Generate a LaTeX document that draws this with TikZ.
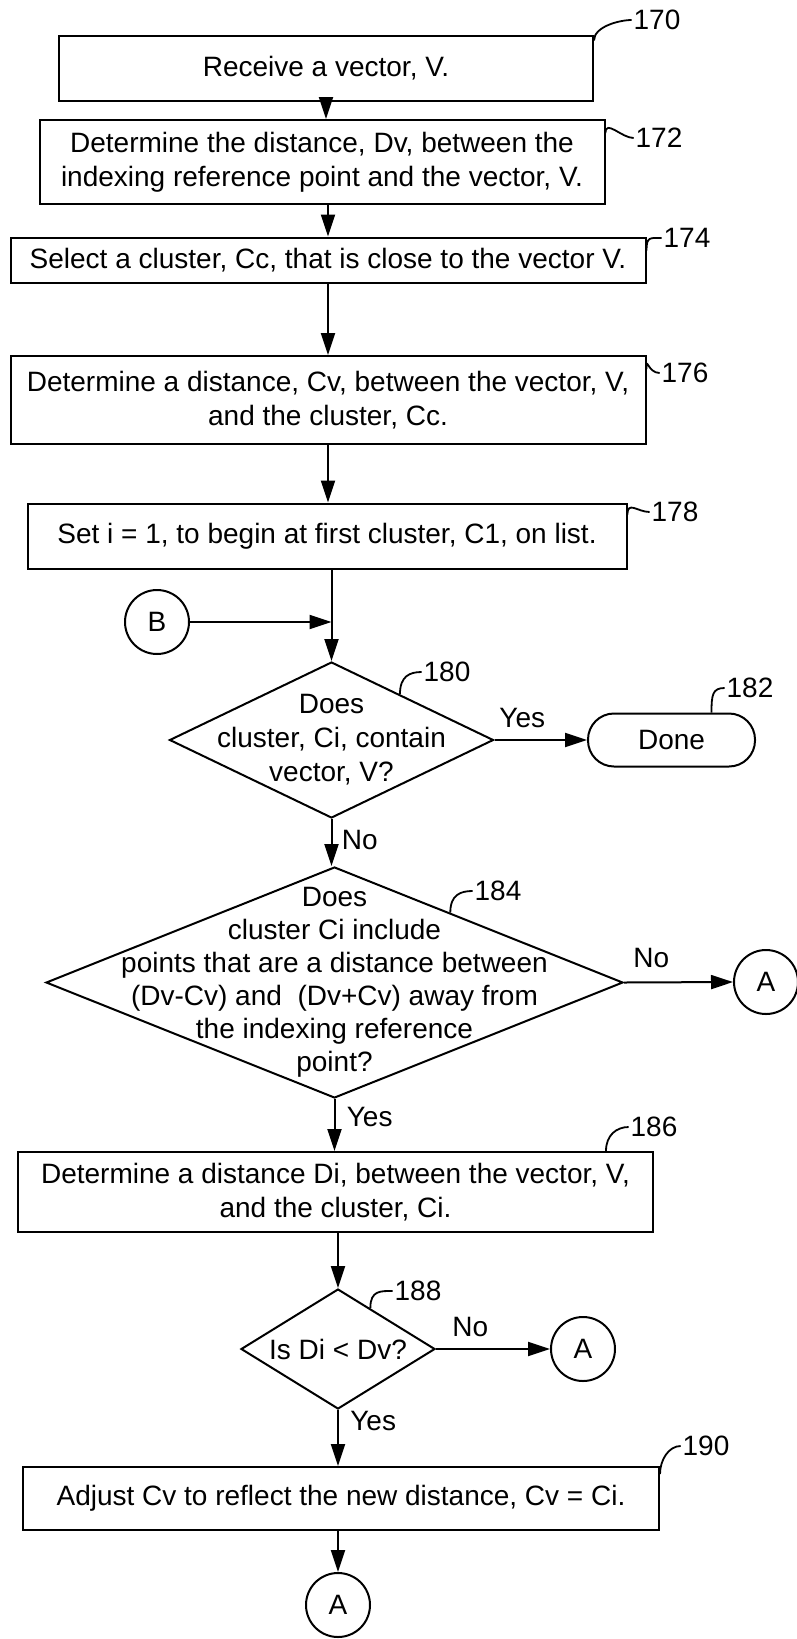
\documentclass[tikz,border=0pt]{standalone}
\usepackage{fontspec}
\setmainfont{Liberation Sans}
\usetikzlibrary{arrows.meta,shapes.geometric,calc,positioning}

\begin{document}
\begin{tikzpicture}[x=1pt,y=-1pt,>={Triangle[length=22pt,width=14pt]},line width=2pt,
  font=\fontsize{28}{34}\selectfont]
  \tikzstyle{proc}=[draw, rectangle, align=center, inner sep=0pt]
  \tikzstyle{dec}=[draw, diamond, inner sep=0pt, aspect=2]
  \tikzstyle{conn}=[draw, circle, minimum size=64pt, inner sep=0pt]
  \tikzstyle{term}=[draw, rectangle, rounded corners=26pt, minimum width=167pt, minimum height=53pt]
  \tikzstyle{ref}=[inner sep=1pt]
  \tikzstyle{lead}=[line width=1.8pt]
  \useasboundingbox (0,0) rectangle (797,1639);

  % steps
  \node[proc, minimum width=534pt, minimum height=65pt] (S170) at (326,68) {Receive a vector, V.};
  \node[proc, minimum width=565pt, minimum height=84pt] (S172) at (322,162)
    {Determine the distance, Dv, between the\\indexing reference point and the vector, V.};
  \node[proc, minimum width=635pt, minimum height=45pt] (S174) at (328,260)
    {Select a cluster, Cc, that is close to the vector V.};
  \node[proc, minimum width=635pt, minimum height=88pt] (S176) at (328,400)
    {Determine a distance, Cv, between the vector, V,\\and the cluster, Cc.};
  \node[proc, minimum width=599pt, minimum height=65pt] (S178) at (327,536)
    {Set i = 1, to begin at first cluster, C1, on list.};
  \node[conn] (B) at (157,622) {B};
  \node[dec, minimum width=324pt, minimum height=156pt,
    label={[align=center]center:Does\\cluster, Ci, contain\\vector, V?}] (D180) at (331.5,740) {};
  \node[term] (T182) at (671.5,740) {Done};
  \node[dec, minimum width=577pt, minimum height=231pt,
    label={[align=center,font=\fontsize{28}{33}\selectfont]center:Does\\cluster Ci include\\points that are a distance between\\(Dv-Cv) and\ \ (Dv+Cv) away from\\the indexing reference\\point?}] (D184) at (334.5,982.5) {};
  \node[conn] (A1) at (766,982) {A};
  \node[proc, minimum width=635pt, minimum height=80pt] (S186) at (335.5,1192)
    {Determine a distance Di, between the vector, V,\\and the cluster, Ci.};
  \node[dec, minimum width=194pt, minimum height=120pt,
    label={center:Is Di < Dv?}] (D188) at (338,1349) {};
  \node[conn] (A2) at (583,1349) {A};
  \node[proc, minimum width=636pt, minimum height=63pt] (S190) at (341,1498.5)
    {Adjust Cv to reflect the new distance, Cv = Ci.};
  \node[conn] (A3) at (338,1605) {A};

  % reference numerals
  \node[ref] (L170) at (657,20) {170};
  \node[ref] (L172) at (659,138) {172};
  \node[ref] (L174) at (687,238) {174};
  \node[ref] (L176) at (685,373) {176};
  \node[ref] (L178) at (675,512) {178};
  \node[ref] (L180) at (447,672) {180};
  \node[ref] (L182) at (750,688) {182};
  \node[ref] (L184) at (498,891) {184};
  \node[ref] (L186) at (654,1127) {186};
  \node[ref] (L188) at (418,1291) {188};
  \node[ref] (L190) at (706,1446) {190};

  \draw[lead] ([yshift=-6pt]S170.north east) .. controls +(0,-14) and +(-12,0) .. (L170.west);
  \draw[lead] ([yshift=-14pt]S172.north east) .. controls +(0,-14) and +(-12,0) .. (L172.west);
  \draw[lead] ([yshift=-14pt]S174.north east) .. controls +(0,-14) and +(-12,0) .. (L174.west);
  \draw[lead] ([yshift=-14pt]S176.north east) .. controls +(0,-14) and +(-12,0) .. (L176.west);
  \draw[lead] ([yshift=-12pt]S178.north east) .. controls +(0,-14) and +(-12,0) .. (L178.west);
  \draw[lead] ($(D180.north)!0.42!(D180.east)$) .. controls +(0,-18) and +(-12,0) .. (L180.west);
  \draw[lead] ([xshift=40pt]T182.north) .. controls +(0,-18) and +(-12,0) .. (L182.west);
  \draw[lead] ($(D184.north)!0.4!(D184.east)$) .. controls +(0,-18) and +(-12,0) .. (L184.west);
  \draw[lead] ([xshift=-48pt]S186.north east) .. controls +(0,-16) and +(-12,0) .. (L186.west);
  \draw[lead] ($(D188.north)!0.33!(D188.east)$) .. controls +(0,-18) and +(-12,0) .. (L188.west);
  \draw[lead] ([yshift=-8pt]S190.north east) .. controls +(0,-14) and +(-12,0) .. (L190.west);

  % flow
  \draw[->] (S170.south) -- (S170.south |- S172.north);
  \draw[->] (S172.south -| S174) -- (S174.north);
  \draw[->] (S174.south) -- (S176.north);
  \draw[->] (S176.south) -- (S176.south |- S178.north);
  \draw[->] (S178.south -| D180) -- (D180.north);
  \draw[->] (B.east) -- (B.east -| D180.north);
  \draw[->] (D180.east) -- (T182.west) node[pos=0.3, above=8pt] {Yes};
  \draw[->] (D180.south) -- (D180.south |- D184.north) node[pos=0.45, right=6pt] {No};
  \draw[->] (D184.east) -- (A1.west) node[pos=0.25, above=10pt] {No};
  \draw[->] (D184.south) -- (D184.south |- S186.north) node[pos=0.35, right=8pt] {Yes};
  \draw[->] (S186.south -| D188) -- (D188.north);
  \draw[->] (D188.east) -- (A2.west) node[pos=0.3, above=8pt] {No};
  \draw[->] (D188.south) -- (D188.south |- S190.north) node[pos=0.2, right=8pt] {Yes};
  \draw[->] (S190.south -| A3) -- (A3.north);
\end{tikzpicture}
\end{document}
